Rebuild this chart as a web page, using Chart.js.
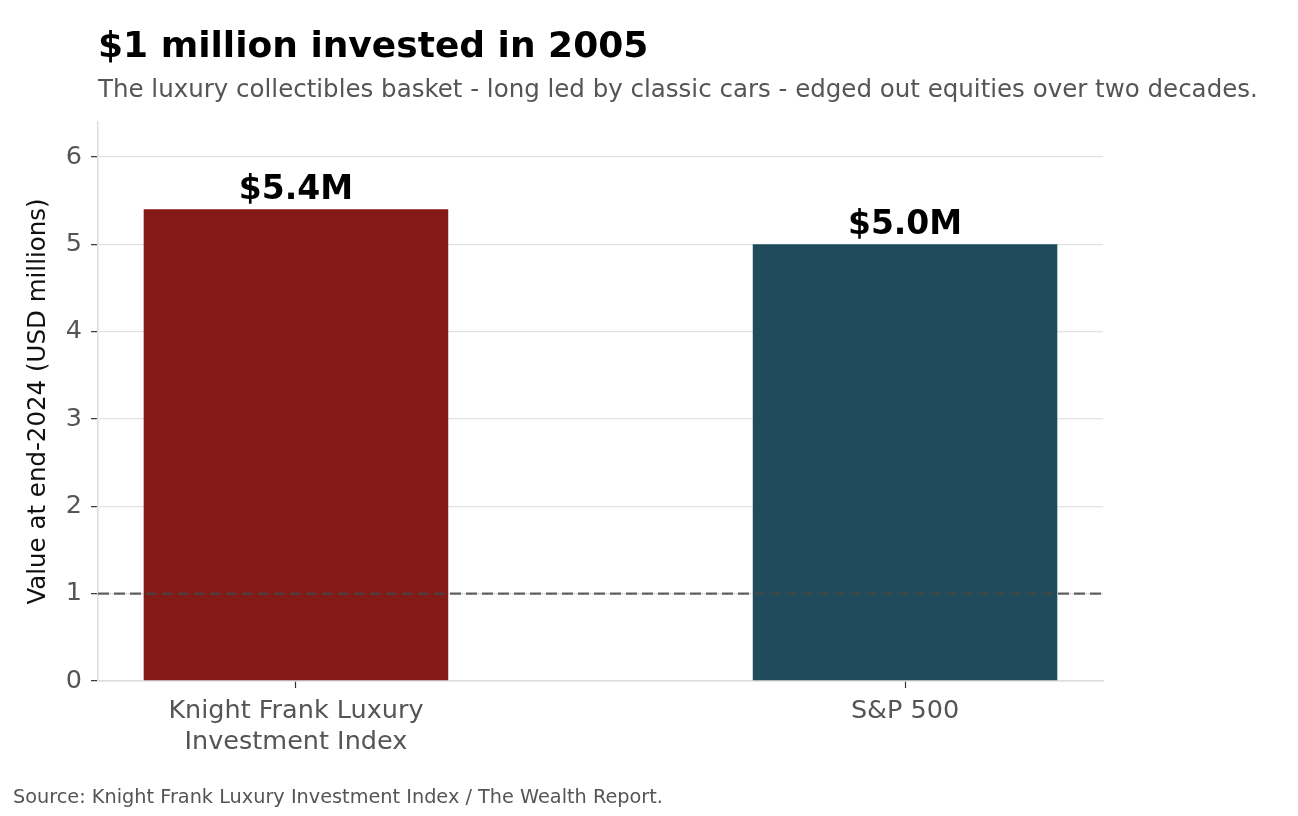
<!DOCTYPE html>
<html>
<head>
<meta charset="utf-8">
<script src="https://cdn.jsdelivr.net/npm/chart.js@4.4.0/dist/chart.umd.min.js"></script>
<style>
  html, body { margin: 0; padding: 0; background: #ffffff; }
  #wrap { position: relative; width: 1298px; height: 816px; }
  canvas { position: absolute; left: 0; top: 0; }
</style>
</head>
<body>
<div id="wrap"><canvas id="c" width="1298" height="816"></canvas></div>
<script>
const titleText = "$1 million invested in 2005";
const subtitleText = "The luxury collectibles basket - long led by classic cars - edged out equities over two decades.";
const sourceText = "Source: Knight Frank Luxury Investment Index / The Wealth Report.";
const categories = [["Knight Frank Luxury", "Investment Index"], ["S&P 500"]];
const values = [5.4, 5.0];
const valueLabels = ["$5.4M", "$5.0M"];
const barColors = ["#841a17", "#1f4b5c"];
const yTicks = [0, 1, 2, 3, 4, 5, 6];
const baselineValue = 1;
const xRange = [-0.325, 1.325];
const yRange = [0, 6.4];
const yAxisTitle = "Value at end-2024 (USD millions)";

const FONT = "'DejaVu Sans', sans-serif";

const textPlugin = {
  id: 'texts',
  afterDraw(chart) {
    const ctx = chart.ctx;
    ctx.save();
    ctx.textAlign = 'left';
    ctx.textBaseline = 'alphabetic';
    ctx.fillStyle = '#000';
    ctx.font = "bold 36px " + FONT;
    ctx.fillText(titleText, 98, 57);
    ctx.fillStyle = '#555';
    ctx.font = "24.5px " + FONT;
    ctx.fillText(subtitleText, 98, 97);
    ctx.font = "19.3px " + FONT;
    ctx.fillStyle = '#555';
    ctx.fillText(sourceText, 13, 803);
    // value labels
    const meta = chart.getDatasetMeta(1);
    ctx.fillStyle = '#000';
    ctx.font = "bold 33px " + FONT;
    ctx.textAlign = 'center';
    ctx.textBaseline = 'alphabetic';
    meta.data.forEach((bar, i) => {
      ctx.fillText(valueLabels[i], bar.x, bar.y - 10);
    });
    ctx.restore();
  }
};

new Chart(document.getElementById('c'), {
  type: 'bar',
  data: {
    datasets: [
      {
        type: 'line',
        data: [{x: xRange[0], y: baselineValue}, {x: xRange[1], y: baselineValue}],
        borderColor: 'rgba(70,70,70,0.85)',
        borderWidth: 2.4,
        borderDash: [11, 5],
        pointRadius: 0,
        fill: false,
        order: 0
      },
      {
        type: 'bar',
        data: values.map((v, i) => ({x: i, y: v})),
        backgroundColor: barColors,
        borderWidth: 0,
        categoryPercentage: 1.0,
        barPercentage: 0.5,
        order: 1
      }
    ]
  },
  options: {
    responsive: false,
    animation: false,
    devicePixelRatio: 1,
    layout: { padding: { left: 0, top: 122, right: 195, bottom: 0 } },
    plugins: { legend: { display: false }, tooltip: { enabled: false }, title: { display: false } },
    scales: {
      x: {
        type: 'linear',
        min: xRange[0],
        max: xRange[1],
        offset: false,
        afterBuildTicks(scale) { scale.ticks = categories.map((c, i) => ({value: i})); },
        afterFit(scale) { scale.height = 135; },
        ticks: {
          callback: (v) => categories[Math.round(v)],
          color: '#555',
          font: { family: FONT, size: 25.5 },
          padding: 8,
          maxRotation: 0,
          autoSkip: false
        },
        grid: { offset: false, drawOnChartArea: false, drawTicks: true, tickLength: 7, tickColor: '#333', tickWidth: 1.2 },
        border: { display: true, color: '#dddddd', width: 1.5 }
      },
      y: {
        min: yRange[0],
        max: yRange[1],
        afterBuildTicks(scale) { scale.ticks = yTicks.map(v => ({value: v})); },
        afterFit(scale) { scale.width = 98; },
        ticks: {
          color: '#555',
          font: { family: FONT, size: 25.5 },
          padding: 9
        },
        title: {
          display: true,
          text: yAxisTitle,
          color: '#111',
          font: { family: FONT, size: 24.5 },
          padding: { top: 24, bottom: 0 }
        },
        grid: { color: '#e2e2e2', lineWidth: 1.3, tickLength: 7, tickColor: '#333', tickWidth: 1.2 },
        border: { display: true, color: '#dddddd', width: 1.5 }
      }
    }
  },
  plugins: [textPlugin]
});
</script>
</body>
</html>
